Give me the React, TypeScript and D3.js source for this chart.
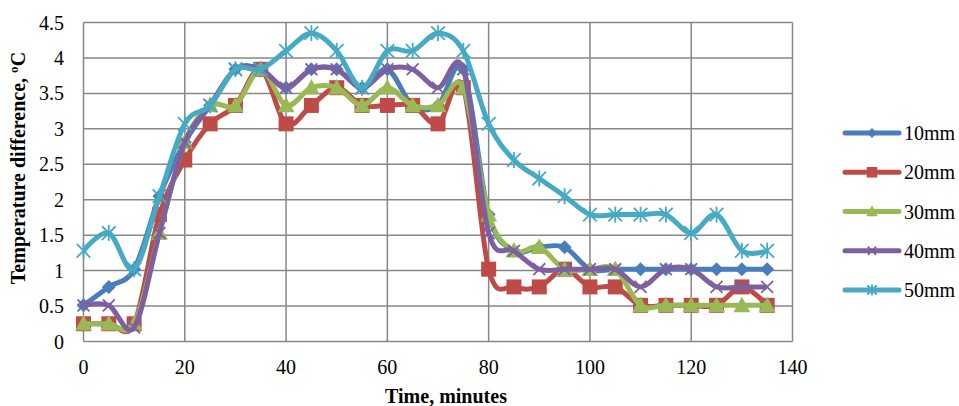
import * as d3 from 'd3'

// minutes (x) and temperature difference (°C) for each depth
const MINUTES = [0, 5, 10, 15, 20, 25, 30, 35, 40, 45, 50, 55, 60, 65, 70, 75, 80, 85, 90, 95, 100, 105, 110, 115, 120, 125, 130, 135]

const MM10 = [0.51, 0.77, 1.02, 2.05, 2.81, 3.33, 3.84, 3.84, 3.58, 3.84, 3.84, 3.58, 3.84, 3.33, 3.33, 3.84, 1.79, 1.28, 1.33, 1.33, 1.02, 1.02, 1.02, 1.02, 1.02, 1.02, 1.02, 1.02]
const MM20 = [0.25, 0.25, 0.25, 1.79, 2.56, 3.07, 3.33, 3.84, 3.07, 3.33, 3.58, 3.33, 3.33, 3.33, 3.07, 3.58, 1.02, 0.77, 0.77, 1.02, 0.77, 0.77, 0.51, 0.51, 0.51, 0.51, 0.77, 0.51]
const MM30 = [0.25, 0.25, 0.25, 1.53, 2.81, 3.33, 3.33, 3.84, 3.33, 3.58, 3.58, 3.33, 3.58, 3.33, 3.33, 3.58, 1.79, 1.28, 1.33, 1.02, 1.02, 1.02, 0.51, 0.51, 0.51, 0.51, 0.51, 0.51]
const MM40 = [0.51, 0.51, 0.2, 1.53, 2.81, 3.33, 3.84, 3.84, 3.58, 3.84, 3.84, 3.58, 3.84, 3.84, 3.58, 3.84, 1.53, 1.28, 1.02, 1.02, 1.02, 1.02, 0.77, 1.02, 1.02, 0.77, 0.77, 0.77]
const MM50 = [1.28, 1.53, 1.02, 2.05, 3.07, 3.33, 3.84, 3.84, 4.1, 4.35, 4.1, 3.58, 4.1, 4.1, 4.35, 4.1, 3.07, 2.56, 2.3, 2.05, 1.79, 1.79, 1.79, 1.79, 1.53, 1.79, 1.28, 1.28]

const X_TICKS = [0, 20, 40, 60, 80, 100, 120, 140]
const Y_TICKS = [0, 0.5, 1, 1.5, 2, 2.5, 3, 3.5, 4, 4.5]

type Marker = 'diamond' | 'square' | 'triangle' | 'x' | 'star'

const SERIES: { name: string; values: number[]; color: string; marker: Marker }[] = [
  { name: '10mm', values: MM10, color: '#4a7ebb', marker: 'diamond' },
  { name: '20mm', values: MM20, color: '#be4b48', marker: 'square' },
  { name: '30mm', values: MM30, color: '#98b954', marker: 'triangle' },
  { name: '40mm', values: MM40, color: '#7d60a0', marker: 'x' },
  { name: '50mm', values: MM50, color: '#46aac5', marker: 'star' },
]

const W = 959
const H = 406
const margin = { left: 83.5, right: 166.5, top: 22.5, bottom: 64.5 }
const FONT = '"Liberation Serif", "Times New Roman", serif'
const GRID = '#878787'

function MarkerShape({ kind, x, y, color, s }: { kind: Marker; x: number; y: number; color: string; s: number }) {
  const h = s / 2
  if (kind === 'diamond') {
    return <path d={`M${x},${y - h}L${x + h},${y}L${x},${y + h}L${x - h},${y}Z`} fill={color} />
  }
  if (kind === 'square') {
    return <rect x={x - h} y={y - h} width={s} height={s} fill={color} />
  }
  if (kind === 'triangle') {
    return <path d={`M${x},${y - h * 1.1}L${x + h * 1.05},${y + h * 0.85}L${x - h * 1.05},${y + h * 0.85}Z`} fill={color} />
  }
  const k = h * 0.85
  return (
    <g stroke={color} strokeWidth={1.8} fill="none">
      <path d={`M${x - k},${y - k}L${x + k},${y + k}M${x - k},${y + k}L${x + k},${y - k}`} />
      {kind === 'star' && <path d={`M${x},${y - h}L${x},${y + h}`} />}
    </g>
  )
}

const MARKER_SIZE: Record<Marker, number> = { diamond: 14, square: 15, triangle: 16, x: 14, star: 16 }

export default function App() {
  const x = d3.scaleLinear().domain([0, 140]).range([margin.left, W - margin.right])
  const y = d3.scaleLinear().domain([0, 4.5]).range([H - margin.bottom, margin.top])

  const line = d3
    .line<number>()
    .x((_, i) => x(MINUTES[i]))
    .y((d) => y(d))
    .curve(d3.curveCatmullRom.alpha(0))

  const legendX = 845
  const legendY = d3.scalePoint<string>().domain(SERIES.map((s) => s.name)).range([133, 290])

  return (
    <svg width={W} height={H} style={{ position: 'absolute', left: 0, top: 0, background: '#fff' }} fontFamily={FONT}>
      {/* grid */}
      {Y_TICKS.map((t) => (
        <line key={'gy' + t} x1={x(0)} x2={x(140)} y1={y(t)} y2={y(t)} stroke={GRID} strokeWidth={1.5} />
      ))}
      {X_TICKS.map((t) => (
        <line key={'gx' + t} x1={x(t)} x2={x(t)} y1={y(0)} y2={y(4.5)} stroke={GRID} strokeWidth={1.5} />
      ))}

      {/* tick labels */}
      {Y_TICKS.map((t) => (
        <text key={'ty' + t} x={64} y={y(t)} dy="0.35em" textAnchor="end" fontSize={20} fill="#000">
          {t}
        </text>
      ))}
      {X_TICKS.map((t) => (
        <text key={'tx' + t} x={x(t)} y={374} textAnchor="middle" fontSize={20} fill="#000">
          {t}
        </text>
      ))}

      {/* axis titles */}
      <text x={446} y={403} textAnchor="middle" fontSize={20} fontWeight="bold">
        Time, minutes
      </text>
      <text transform="translate(25,168) rotate(-90)" textAnchor="middle" fontSize={20} fontWeight="bold">
        Temperature difference, ºC
      </text>

      {/* series */}
      {SERIES.map((s) => (
        <g key={s.name}>
          <path d={line(s.values) ?? ''} fill="none" stroke={s.color} strokeWidth={5} strokeLinejoin="round" />
          {s.values.map((v, i) => (
            <MarkerShape key={i} kind={s.marker} x={x(MINUTES[i])} y={y(v)} color={s.color} s={MARKER_SIZE[s.marker]} />
          ))}
        </g>
      ))}

      {/* legend */}
      {SERIES.map((s) => {
        const ly = legendY(s.name) ?? 0
        return (
          <g key={'lg' + s.name}>
            <line x1={legendX} x2={legendX + 54} y1={ly} y2={ly} stroke={s.color} strokeWidth={5} strokeLinecap="round" />
            <MarkerShape kind={s.marker} x={legendX + 27} y={ly} color={s.color} s={MARKER_SIZE[s.marker] * 0.7} />
            <text x={904} y={ly} dy="0.35em" fontSize={20} fill="#000">
              {s.name}
            </text>
          </g>
        )
      })}
    </svg>
  )
}
